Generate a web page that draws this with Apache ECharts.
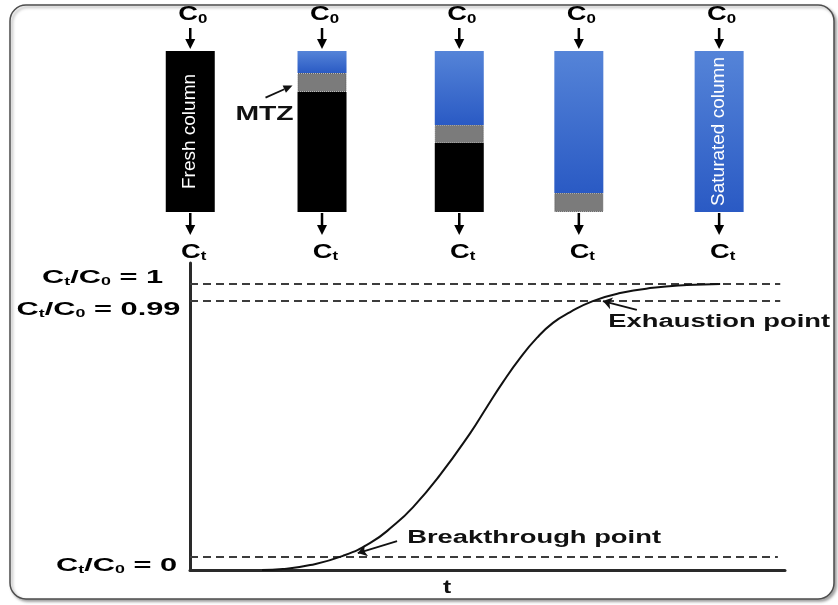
<!DOCTYPE html>
<html>
<head>
<meta charset="utf-8">
<script src="https://cdn.jsdelivr.net/npm/echarts@6/dist/echarts.min.js"></script>
<style>
  html, body { margin: 0; padding: 0; background: #fff; }
  #chart { width: 838px; height: 605px; }
</style>
</head>
<body>
<div id="chart"></div>
<script>
// ---- Column stages (fractions of the bed, stacked bottom -> top) ----
const stagePos = [0.66, 2.82, 5.07, 7.03, 9.33];
const freshBed = [1, 0.745, 0.428, 0, 0];
const mtzBed = [0, 0.118, 0.112, 0.118, 0];
const saturatedBed = [0, 0.137, 0.46, 0.882, 1];
const stageNotes = ['Fresh column', '', '', '', 'Saturated column'];
const zoneNote = 'MTZ';
const zoneStage = 1;

// ---- Breakthrough curve (time vs. effluent level, diagram units) ----
const curveTime = [12.1, 15.6, 20.2, 25.7, 30.3, 34.1, 37.5, 42.0, 47.1, 49.9,
                   52.6, 55.5, 58.3, 61.0, 63.9, 67.7, 72.3, 77.8, 83.5, 89.1];
const curveLevel = [0, 0.3, 1.6, 4.6, 8.8, 14.3, 20.5, 30.9, 44.6, 53.1,
                    61.2, 69.1, 75.6, 80.5, 84.0, 87.6, 90.2, 91.9, 92.8, 93.2];

// ---- Dashed reference levels ----
const guideLevel = [93.2, 87.8, 4.2];
const guideEnd = [99.2, 99.2, 98.8];

// ---- Level labels on the left (Ct/C0 = ...) ----
const tickLevel = [93.2, 87.8, 0];
const tickText = ['1', '0.99', '0'];

// ---- Named points on the curve ----
const pointNames = ['Exhaustion point', 'Breakthrough point'];
const pointTip = [[69.4, 87.6], [28.2, 5.5]];
const timeName = 't';

// ---- Layout ----
const FONT = 'Liberation Sans, Arial, Helvetica, sans-serif';
const tickDX = [-87.5, -91.5, -73.5];
const tickDY = [-6, 9, -4.5];
const pointTail = [[75.1, 84.7], [34.8, 9.4]];
const pointTextAt = [[70.3, 80.9], [36.5, 10.3]];
const timeNameAt = [43.2, -5.9];
const COLUMN_W = 49;

const chart = echarts.init(document.getElementById('chart'), null, { renderer: 'canvas' });

const richLevel = {
  b: { fontSize: 19, fontWeight: 'bold', fontFamily: FONT, color: '#111', lineHeight: 20 },
  s: { fontSize: 11, fontWeight: 'bold', fontFamily: FONT, color: '#111', lineHeight: 9, verticalAlign: 'bottom' }
};
const richStageTop = {
  b: { fontSize: 21, fontWeight: 'bold', fontFamily: FONT, color: '#111', lineHeight: 22 },
  s: { fontSize: 13, fontWeight: 'bold', fontFamily: FONT, color: '#111', lineHeight: 10, verticalAlign: 'bottom' }
};
const richStageBottom = {
  b: { fontSize: 21, fontWeight: 'bold', fontFamily: FONT, color: '#111', lineHeight: 22 },
  s: { fontSize: 13, fontWeight: 'bold', fontFamily: FONT, color: '#111', lineHeight: 15, verticalAlign: 'bottom' }
};

function blueFill() {
  return new echarts.graphic.LinearGradient(0, 0, 0, 1, [
    { offset: 0, color: '#5584d8' },
    { offset: 1, color: '#2a5ac4' }
  ]);
}

// arrow markLines from label tail to point on curve
const pointArrows = pointNames.map((n, i) => [
  { coord: pointTail[i], symbol: 'none' },
  { coord: pointTip[i], symbol: 'arrow', symbolSize: 9 }
]);
const guideLines = guideLevel.map((l, i) => [
  { coord: [0, l], symbol: 'none', lineStyle: { type: [8, 5], width: 2, color: '#3c3c3c' } },
  { coord: [guideEnd[i], l], symbol: 'none' }
]);

function renderColumn(params, api) {
  const pos = api.value(0);
  const fresh = api.value(1), mtz = api.value(2), sat = api.value(3);
  const i = api.value(4);
  const p0 = api.coord([pos, 0]);
  const p1 = api.coord([pos, fresh]);
  const p2 = api.coord([pos, fresh + mtz]);
  const p3 = api.coord([pos, fresh + mtz + sat]);
  const x = p0[0];
  const left = x - COLUMN_W / 2;
  const topY = p3[1], botY = p0[1];
  const children = [];
  if (sat > 0) {
    children.push({ type: 'rect', shape: { x: left, y: p3[1], width: COLUMN_W, height: p2[1] - p3[1] },
                    style: { fill: blueFill() } });
  }
  if (mtz > 0) {
    children.push({ type: 'rect', shape: { x: left + 0.5, y: p2[1] + 0.5, width: COLUMN_W - 1, height: p1[1] - p2[1] - 1 },
                    style: { fill: '#7b7b7b', stroke: '#5a5a5a', lineWidth: 1, lineDash: [1, 1] } });
  }
  if (fresh > 0) {
    children.push({ type: 'rect', shape: { x: left, y: p1[1], width: COLUMN_W, height: p0[1] - p1[1] },
                    style: { fill: '#000' } });
  }
  if (stageNotes[i]) {
    children.push({ type: 'text', x: x, y: (topY + botY) / 2, rotation: Math.PI / 2,
                    style: { text: stageNotes[i], fontSize: 19, fontFamily: FONT, fill: '#fff',
                             align: 'center', verticalAlign: 'middle' } });
  }
  children.push(
    { type: 'line', shape: { x1: x, y1: topY - 23, x2: x, y2: topY - 9 },
      style: { stroke: '#000', lineWidth: 2.5 } },
    { type: 'polygon', shape: { points: [[x - 5, topY - 12], [x + 5, topY - 12], [x, topY - 2]] },
      style: { fill: '#000' } },
    { type: 'line', shape: { x1: x, y1: botY + 1, x2: x, y2: botY + 15 },
      style: { stroke: '#000', lineWidth: 2.5 } },
    { type: 'polygon', shape: { points: [[x - 5, botY + 13], [x + 5, botY + 13], [x, botY + 23]] },
      style: { fill: '#000' } },
    { type: 'text', x: x + 2.5, y: topY - 36.5, scaleX: 1.3,
      style: { text: '{b|C}{s|0}', rich: richStageTop, align: 'center', verticalAlign: 'middle' } },
    { type: 'text', x: x + 3.5, y: botY + 40, scaleX: 1.3,
      style: { text: '{b|C}{s|t}', rich: richStageBottom, align: 'center', verticalAlign: 'middle' } }
  );
  if (i === zoneStage) {
    const mid = api.coord([pos, fresh + mtz / 2]);
    const tipX = left - 5;
    const tipY = mid[1] + 3;
    const tailX = tipX - 27, tailY = tipY + 12;
    const ang = Math.atan2(tipY - tailY, tipX - tailX);
    const hx = tipX - 9 * Math.cos(ang), hy = tipY - 9 * Math.sin(ang);
    const nx = -Math.sin(ang) * 4, ny = Math.cos(ang) * 4;
    children.push(
      { type: 'line', shape: { x1: tailX, y1: tailY, x2: hx, y2: hy },
        style: { stroke: '#111', lineWidth: 1.8 } },
      { type: 'polygon', shape: { points: [[tipX, tipY], [hx + nx, hy + ny], [hx - nx, hy - ny]] },
        style: { fill: '#111' } },
      { type: 'text', x: tipX - 28, y: tipY + 29, scaleX: 1.35,
        style: { text: zoneNote, fontSize: 21, fontWeight: 'bold', fontFamily: FONT,
                 fill: '#111', align: 'center', verticalAlign: 'middle' } }
    );
  }
  return { type: 'group', children: children };
}

const option = {
  animation: false,
  backgroundColor: '#fff',
  graphic: [{
    type: 'rect', z: -100,
    shape: { x: 10, y: 5, width: 824, height: 594, r: 16 },
    style: {
      fill: '#fff', stroke: '#4d4d4d', lineWidth: 1.5,
      shadowBlur: 3, shadowOffsetX: 2, shadowOffsetY: 2, shadowColor: 'rgba(0,0,0,0.35)'
    }
  }],
  grid: [
    { left: 190, right: 53, top: 263, bottom: 35 },
    { left: 150, width: 610, top: 51, height: 161 }
  ],
  xAxis: [
    {
      gridIndex: 0, type: 'value', min: 0, max: 100,
      axisLine: { show: true, lineStyle: { color: '#2a2a2a', width: 3 } },
      axisTick: { show: false }, axisLabel: { show: false }, splitLine: { show: false }
    },
    { gridIndex: 1, type: 'value', min: 0, max: 10, show: false }
  ],
  yAxis: [
    {
      gridIndex: 0, type: 'value', min: 0, max: 100,
      axisLine: { show: true, lineStyle: { color: '#2a2a2a', width: 3 } },
      axisTick: { show: false }, axisLabel: { show: false }, splitLine: { show: false }
    },
    { gridIndex: 1, type: 'value', min: 0, max: 1, show: false }
  ],
  series: [
    {
      type: 'line', xAxisIndex: 0, yAxisIndex: 0,
      data: curveTime.map((t, i) => [t, curveLevel[i]]),
      smooth: 0.5, symbol: 'none',
      lineStyle: { color: '#111', width: 2 },
      z: 5,
      markLine: {
        silent: true, animation: false,
        symbol: ['none', 'none'],
        label: { show: false },
        lineStyle: { type: 'solid', color: '#111', width: 1.8 },
        data: guideLines.concat(pointArrows)
      }
    },
    {
      // level labels, point names and time axis name
      type: 'custom', xAxisIndex: 0, yAxisIndex: 0,
      data: tickLevel.map((l, i) => [0, l, i, 0])
        .concat(pointNames.map((n, i) => [pointTextAt[i][0], pointTextAt[i][1], i, 1]))
        .concat([[timeNameAt[0], timeNameAt[1], 0, 2]]),
      renderItem: function (params, api) {
        const p = api.coord([api.value(0), api.value(1)]);
        const idx = api.value(2);
        const kind = api.value(3);
        if (kind === 0) {
          return {
            type: 'text', x: p[0] + tickDX[idx], y: p[1] + tickDY[idx], scaleX: 1.62,
            style: {
              text: '{b|C}{s|t}{b|/C}{s|0}{b| = ' + tickText[idx] + '}',
              rich: richLevel, align: 'center', verticalAlign: 'middle'
            }
          };
        }
        if (kind === 1) {
          return {
            type: 'text', x: p[0], y: p[1], scaleX: 1.52,
            style: {
              text: pointNames[idx], fontSize: 18, fontWeight: 'bold', fontFamily: FONT,
              fill: '#111', align: 'left', verticalAlign: 'middle'
            }
          };
        }
        return {
          type: 'text', x: p[0], y: p[1], scaleX: 1.3,
          style: {
            text: timeName, fontSize: 19, fontWeight: 'bold', fontFamily: FONT,
            fill: '#111', align: 'center', verticalAlign: 'middle'
          }
        };
      }
    },
    {
      // the five columns with their inlet / outlet arrows
      type: 'custom', xAxisIndex: 1, yAxisIndex: 1,
      data: stagePos.map((p, i) => [p, freshBed[i], mtzBed[i], saturatedBed[i], i]),
      renderItem: renderColumn,
      z: 6
    }
  ]
};

chart.setOption(option);
</script>
</body>
</html>
